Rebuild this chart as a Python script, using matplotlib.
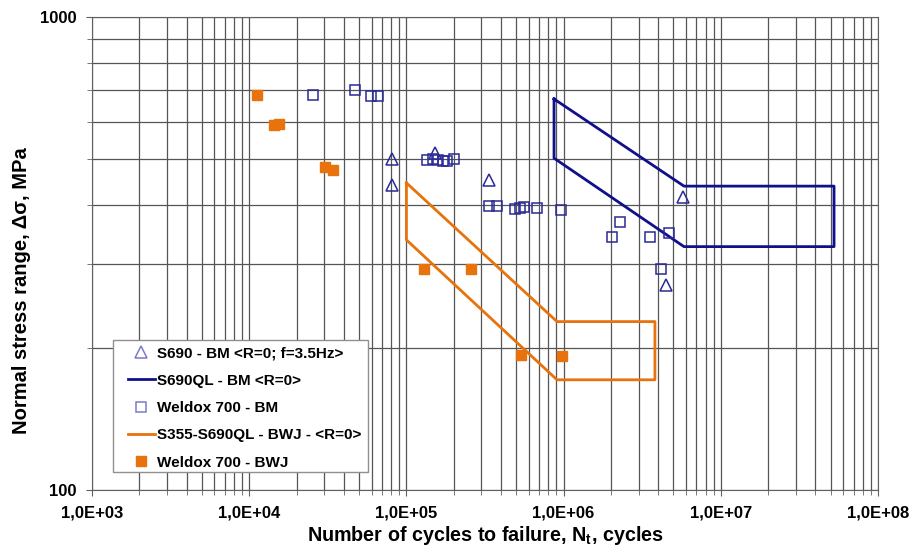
import matplotlib
matplotlib.use("Agg")
import matplotlib.pyplot as plt
from matplotlib.ticker import LogLocator, FixedLocator, NullFormatter, FixedFormatter
from matplotlib.lines import Line2D
from matplotlib.patches import Rectangle

plt.rcParams['font.family'] = ['Liberation Sans', 'DejaVu Sans']

# S690 - BM <R=0; f=3.5Hz>  (triangles)
s690_n = [81300, 81300, 152000, 335000, 5.78e6, 4.48e6]
s690_s = [500, 441, 515, 452, 416, 271]

# Weldox 700 - BM (open squares)
wbm_n = [25300, 47100, 59600, 65900,
         135000, 147700, 158800, 170900, 181200, 200800,
         335000, 377000, 491000, 528000, 560000, 677000, 964000,
         2.29e6, 2.02e6, 3.53e6, 4.71e6, 4.17e6]
wbm_s = [684, 701, 682, 682,
         499, 501, 499, 497, 495, 501,
         399, 399, 393, 395, 397, 395, 391,
         368, 342, 342, 350, 293]

# Weldox 700 - BWJ (filled squares)
wbwj_n = [11200, 14400, 15500, 30300, 34100, 129000, 258000, 536000, 977000]
wbwj_s = [684, 591, 594, 482, 475, 293, 293, 193, 192]

# S690QL - BM <R=0> scatter band outline
ql_n = [869000, 869000, 5.83e6, 5.25e7, 5.25e7, 5.83e6, 869000]
ql_s = [671, 503, 327, 327, 439, 439, 671]

# S355-S690QL - BWJ - <R=0> scatter band outline
bwj_n = [1.0e5, 1.0e5, 9.08e5, 3.81e6, 3.81e6, 9.08e5, 1.0e5]
bwj_s = [446, 338, 171, 171, 227, 227, 446]

x_tick_vals = [1e3, 1e4, 1e5, 1e6, 1e7, 1e8]
x_tick_labels = ['1,0E+03', '1,0E+04', '1,0E+05', '1,0E+06', '1,0E+07', '1,0E+08']
y_tick_vals = [100, 1000]
y_tick_labels = ['100', '1000']

navy = '#10108a'
mblue = '#2a2a96'
orange = '#e8720c'

fig = plt.figure(figsize=(9.17, 5.47), dpi=100)
ax = fig.add_axes([0.1003, 0.1042, 0.8572, 0.8647])
ax.set_xscale('log')
ax.set_yscale('log')
ax.set_xlim(1e3, 1e8)
ax.set_ylim(100, 1000)

ax.xaxis.set_major_locator(FixedLocator(x_tick_vals))
ax.xaxis.set_major_formatter(FixedFormatter(x_tick_labels))
ax.xaxis.set_minor_locator(LogLocator(base=10, subs=range(2, 10), numticks=50))
ax.xaxis.set_minor_formatter(NullFormatter())
ax.yaxis.set_major_locator(FixedLocator(y_tick_vals))
ax.yaxis.set_major_formatter(FixedFormatter(y_tick_labels))
ax.yaxis.set_minor_locator(LogLocator(base=10, subs=range(2, 10), numticks=50))
ax.yaxis.set_minor_formatter(NullFormatter())

ax.grid(True, which='both', color='#555555', linewidth=0.9)
ax.set_axisbelow(True)
ax.tick_params(which='both', direction='out', color='#606060')
ax.tick_params(which='major', length=4, pad=7)
ax.tick_params(which='minor', length=3.5)
for sp in ax.spines.values():
    sp.set_color('#606060')

ax.plot(s690_n, s690_s, linestyle='none', marker='^', markersize=8,
        markerfacecolor='none', markeredgecolor=mblue, markeredgewidth=1.1, zorder=4)
ax.plot(ql_n, ql_s, color=navy, linewidth=2, zorder=3)
ax.plot(wbm_n, wbm_s, linestyle='none', marker='s', markersize=7.5,
        markerfacecolor='none', markeredgecolor=mblue, markeredgewidth=1.1, zorder=4)
ax.plot(bwj_n, bwj_s, color=orange, linewidth=2, zorder=3)
ax.plot(wbwj_n, wbwj_s, linestyle='none', marker='s', markersize=7.5,
        markerfacecolor=orange, markeredgecolor=orange, zorder=4)

for lbl in ax.get_xticklabels() + ax.get_yticklabels():
    lbl.set_fontweight('bold')
    lbl.set_fontsize(12)

ax.set_xlabel('Number of cycles to failure, N$_\\mathregular{t}$, cycles',
              fontsize=14.2, fontweight='bold', labelpad=3)
ax.set_ylabel('Normal stress range, Δσ, MPa', fontsize=14.5, fontweight='bold')
ax.yaxis.set_label_coords(-0.0775, 0.421)

# legend frame drawn separately
ax.add_patch(Rectangle((0.0267, 0.038), 0.3244, 0.279, transform=ax.transAxes,
                       facecolor='white', edgecolor='#909090', linewidth=1.0, zorder=5))

handles = [
    Line2D([], [], linestyle='none', marker='^', markersize=8, markerfacecolor='none',
           markeredgecolor='#7b7bc8', markeredgewidth=1.1),
    Line2D([], [], color=navy, linewidth=2),
    Line2D([], [], linestyle='none', marker='s', markersize=7.5, markerfacecolor='none',
           markeredgecolor='#7b7bc8', markeredgewidth=1.1),
    Line2D([], [], color=orange, linewidth=2),
    Line2D([], [], linestyle='none', marker='s', markersize=7.5, markerfacecolor=orange,
           markeredgecolor=orange),
]
labels = ['S690 - BM <R=0; f=3.5Hz>', 'S690QL - BM <R=0>', 'Weldox 700 - BM',
          'S355-S690QL - BWJ - <R=0>', 'Weldox 700 - BWJ']
leg = ax.legend(handles, labels, loc='upper left', bbox_to_anchor=(0.0458, 0.3034),
                prop={'weight': 'bold', 'size': 11}, frameon=False,
                handlelength=1.76, handletextpad=0.13, labelspacing=0.87,
                borderpad=0, borderaxespad=0)
leg.set_zorder(6)

fig.savefig('out.png', dpi=100)
